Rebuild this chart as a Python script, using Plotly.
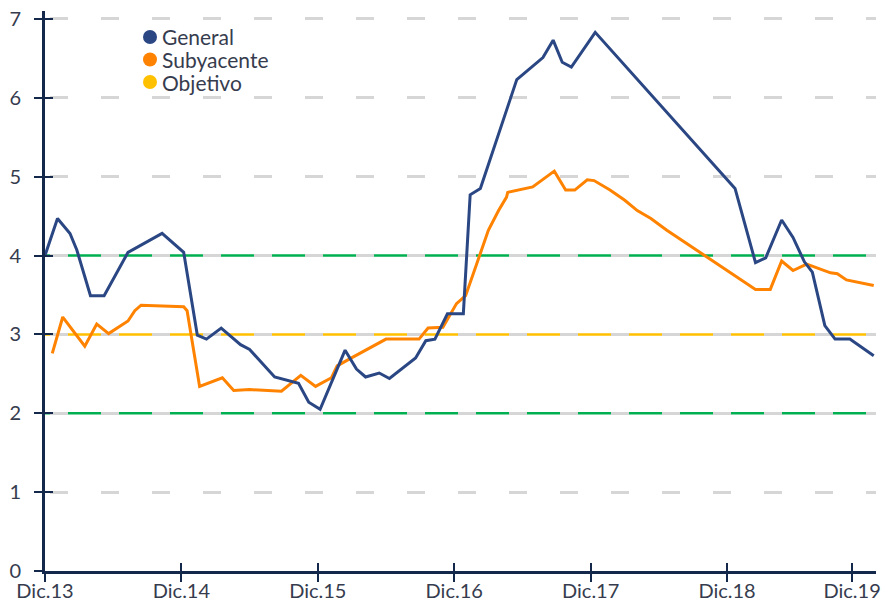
import plotly.graph_objects as go

# ---- data (months since Dec-2013, inflation %) ----
general_x = [0, 1.1, 2.2, 2.8, 4.0, 5.2, 7.3, 10.3, 12.2, 13.4, 14.2, 15.5, 17.2, 18.0,
             20.2, 22.3, 23.2, 24.2, 26.4, 27.4, 28.2, 29.4, 30.3, 32.6, 33.5, 34.3,
             35.4, 36.8, 37.4, 38.3, 41.5, 43.8, 44.7, 45.5, 46.3, 48.4, 60.7, 62.5,
             63.4, 64.8, 65.8, 66.8, 67.5, 68.6, 69.5, 70.8, 72.9]
general_y = [4.00, 4.47, 4.28, 4.07, 3.49, 3.49, 4.04, 4.28, 4.04, 2.99, 2.94, 3.08, 2.87, 2.81,
             2.46, 2.38, 2.14, 2.05, 2.80, 2.56, 2.46, 2.51, 2.44, 2.70, 2.92, 2.94,
             3.26, 3.26, 4.77, 4.85, 6.23, 6.51, 6.73, 6.45, 6.39, 6.83, 4.85, 3.91,
             3.97, 4.45, 4.23, 3.92, 3.79, 3.11, 2.94, 2.94, 2.73]

sub_x = [0.64, 1.56, 3.5, 4.55, 5.6, 7.3, 7.9, 8.45, 12.2, 12.5, 13.6, 15.6, 16.6, 18.0,
         20.8, 22.5, 23.8, 25.2, 25.7, 26.8, 30.0, 32.9, 33.7, 35.0, 36.2, 37.0, 38.4,
         39.0, 39.9, 40.6, 40.7, 42.9, 44.8, 45.8, 46.6, 47.7, 48.3, 49.7, 51.0, 52.1,
         53.3, 54.7, 62.5, 63.8, 64.8, 65.8, 67.0, 69.1, 69.7, 70.5, 72.9]
sub_y = [2.76, 3.22, 2.85, 3.13, 3.01, 3.17, 3.30, 3.37, 3.35, 3.30, 2.34, 2.45, 2.29, 2.30,
         2.28, 2.48, 2.34, 2.45, 2.60, 2.69, 2.94, 2.94, 3.08, 3.09, 3.39, 3.49, 4.07,
         4.32, 4.57, 4.74, 4.80, 4.87, 5.07, 4.83, 4.83, 4.96, 4.95, 4.83, 4.70, 4.57,
         4.47, 4.32, 3.57, 3.57, 3.93, 3.81, 3.89, 3.78, 3.77, 3.69, 3.62]

objetivo = 3.0
rango_inf = 2.0
rango_sup = 4.0

tick_vals = [0, 12, 24, 36, 48, 60, 71]
tick_text = ["Dic.13", "Dic.14", "Dic.15", "Dic.16", "Dic.17", "Dic.18", "Dic.19"]
y_ticks = [0, 1, 2, 3, 4, 5, 6, 7]

legend_names = ["General", "Subyacente", "Objetivo"]

# ---- style ----
C_GEN = "#2A4784"
C_SUB = "#FF8300"
C_OBJ = "#FFC000"
C_GREEN = "#00B050"
C_AXIS = "#13284A"
C_TEXT = "#363C4E"
C_GRID = "#D6D6D6"
FONT = "Lato"
X_RANGE = [0, 73.1]
Y_RANGE = [0, 7.1]
REF_DASH = "5px,18px,28px,0px"

fig = go.Figure()

for yv, col in [(rango_sup, C_GREEN), (rango_inf, C_GREEN), (objetivo, C_OBJ)]:
    fig.add_trace(go.Scatter(x=X_RANGE, y=[yv, yv], mode="lines",
                             line=dict(color=col, width=2.5, dash=REF_DASH),
                             hoverinfo="skip", showlegend=False))

fig.add_trace(go.Scatter(x=sub_x, y=sub_y, mode="lines", name="Subyacente",
                         line=dict(color=C_SUB, width=3), showlegend=False))
fig.add_trace(go.Scatter(x=general_x, y=general_y, mode="lines", name="General",
                         line=dict(color=C_GEN, width=3), showlegend=False))

# overlay axes to draw the inner half of the crossing ticks
fig.add_trace(go.Scatter(x=[], y=[], xaxis="x2", yaxis="y2", showlegend=False))

fig.update_layout(
    width=895, height=607,
    margin=dict(l=45, r=19, t=11, b=36, autoexpand=False),
    paper_bgcolor="white", plot_bgcolor="white",
    font=dict(family=FONT, color=C_TEXT, size=20),
    showlegend=False,
    xaxis=dict(range=X_RANGE, tickvals=tick_vals, ticktext=tick_text, automargin=False,
               showgrid=False, zeroline=False, showline=True, linecolor=C_AXIS,
               linewidth=3, ticks="outside", ticklen=8, tickwidth=2, tickcolor=C_AXIS,
               tickfont=dict(size=20, color=C_TEXT), ticklabelstandoff=-8),
    yaxis=dict(range=Y_RANGE, tickvals=y_ticks, showgrid=True, gridcolor=C_GRID,
               automargin=False,
               gridwidth=2.5, griddash="0px,5px,18px,28px", zeroline=False,
               showline=True, linecolor=C_AXIS, linewidth=3, ticks="outside",
               ticklen=8, tickwidth=2, tickcolor=C_AXIS,
               tickfont=dict(size=20, color=C_TEXT), ticklabelstandoff=9),
    xaxis2=dict(range=X_RANGE, overlaying="x", anchor="y2", side="bottom",
                automargin=False,
                tickvals=tick_vals, showticklabels=False, showgrid=False,
                zeroline=False, showline=False, ticks="inside", ticklen=8,
                tickwidth=2, tickcolor=C_AXIS),
    yaxis2=dict(range=Y_RANGE, overlaying="y", anchor="x2", side="left",
                automargin=False,
                tickvals=y_ticks, showticklabels=False, showgrid=False,
                zeroline=False, showline=False, ticks="inside", ticklen=8,
                tickwidth=2, tickcolor=C_AXIS),
)

# custom legend (dots + labels)
leg_colors = [C_GEN, C_SUB, C_OBJ]
leg_y_px = [37, 59.5, 82]
plot_h = 607 - 11 - 36
plot_w = 895 - 45 - 19
for name, col, ypx in zip(legend_names, leg_colors, leg_y_px):
    yp = (607 - 36 - ypx) / plot_h
    fig.add_shape(type="circle", xref="paper", yref="paper",
                  xsizemode="pixel", ysizemode="pixel",
                  xanchor=(150 - 45) / plot_w, yanchor=yp,
                  x0=-7, x1=7, y0=-7, y1=7,
                  fillcolor=col, line=dict(width=0))
    fig.add_annotation(x=(160 - 45) / plot_w, y=yp, xref="paper", yref="paper",
                       text=name, showarrow=False, xanchor="left", yanchor="middle",
                       font=dict(size=21, color=C_TEXT, family=FONT))

fig.write_html("out.html", config={"displayModeBar": False},
               post_script="document.body.style.margin='0';document.body.style.padding='0';")
